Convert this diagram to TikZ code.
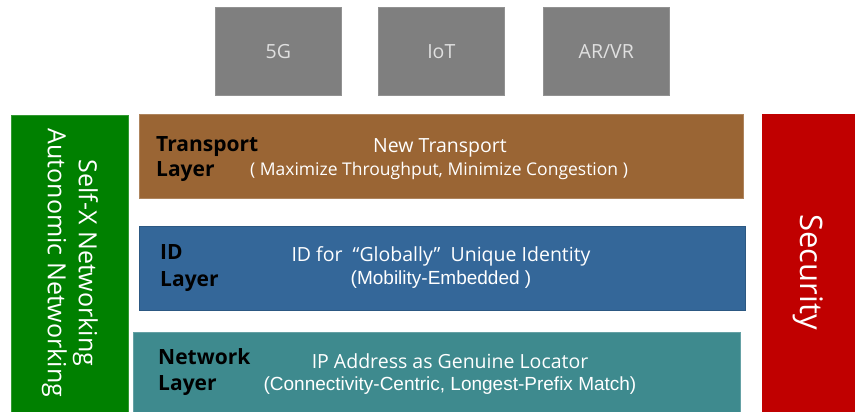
\documentclass[tikz,border=0pt]{standalone}
\usepackage{fontspec}
\setmainfont{Open Sans}
\newfontfamily\arialish{Liberation Sans}
\definecolor{appgray}{RGB}{127,127,127}
\definecolor{transportc}{RGB}{154,101,52}
\definecolor{idc}{RGB}{52,103,153}
\definecolor{netc}{RGB}{62,138,142}
\definecolor{selfxc}{RGB}{0,128,0}
\definecolor{secc}{RGB}{192,0,0}
\begin{document}
\begin{tikzpicture}[x=1pt,y=-1pt,
  appbox/.style={fill=appgray,draw=appgray!85!white,line width=0.6pt,anchor=north west,
    inner sep=0pt,minimum width=126pt,minimum height=88pt,text=white!88!black,font=\fontsize{19.5}{22}\selectfont},
  layerbox/.style={anchor=north west,inner sep=0pt,line width=0.6pt},
  sidebox/.style={anchor=north west,inner sep=0pt,line width=0.6pt},
  lname/.style={anchor=west,align=left,inner sep=0pt,text=black},
  ldesc/.style={anchor=center,text=white,font=\fontsize{19.5}{22}\selectfont},
  ldescs/.style={anchor=center,text=white,font=\fontsize{17.5}{22}\selectfont},
  ldescb/.style={anchor=center,text=white,font=\arialish\fontsize{19}{22}\selectfont}]
\useasboundingbox (0,0) rectangle (855,412);
\fill[white] (0,0) rectangle (855,412);

% applications on top
\node[appbox] (g5) at (215,7) {5G};
\node[appbox] (iot) at (378,7) {IoT};
\node[appbox] (arvr) at (543,7) {AR/VR};

% side pillars
\node[sidebox,fill=selfxc,draw=selfxc!80!white,minimum width=117pt,minimum height=300pt] (selfx) at (11,115) {};
\node[rotate=-90,text=white,align=center,font=\fontsize{25}{31}\selectfont] (selfxt) at (70,263) {Self-X Networking\\Autonomic Networking};
\node[sidebox,fill=secc,draw=secc,minimum width=96pt,minimum height=300pt] (sec) at (762,114) {};
\node[rotate=-90,text=white,font=\fontsize{31}{34}\selectfont] (sect) at (808,272) {Security};

% protocol layers
\node[layerbox,fill=transportc,draw=transportc!80!white,minimum width=604pt,minimum height=84pt] (tr) at (139,114) {};
\node[lname,font=\fontsize{21}{25}\selectfont\bfseries] (trn) at (156,159) {Transport\\Layer};
\node[ldesc] (trd1) at (440,148) {New Transport};
\node[ldescs] (trd2) at (439,171) {( Maximize Throughput, Minimize Congestion )};

\node[layerbox,fill=idc,draw=idc!85!black,minimum width=606pt,minimum height=84pt] (id) at (139,226) {};
\node[lname,font=\fontsize{21}{27}\selectfont\bfseries] (idn) at (160,268) {ID\\Layer};
\node[ldesc] (idd1) at (441,256) {ID for \ “Globally” \ Unique Identity};
\node[ldescb] (idd2) at (441,280) {(Mobility-Embedded )};

\node[layerbox,fill=netc,draw=netc!80!white,minimum width=607pt,minimum height=90pt] (net) at (133,332) {};
\node[lname,font=\fontsize{21}{26}\selectfont\bfseries] (netn) at (158,372) {Network\\Layer};
\node[ldesc] (netd1) at (450,361) {IP Address as Genuine Locator};
\node[ldescb] (netd2) at (450,386) {(Connectivity-Centric, Longest-Prefix Match)};
\end{tikzpicture}
\end{document}
